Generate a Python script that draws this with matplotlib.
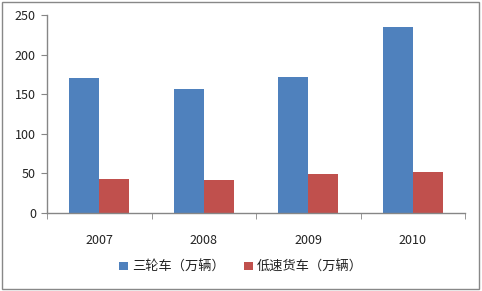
import matplotlib
matplotlib.use("Agg")
import matplotlib.pyplot as plt
import numpy as np
from matplotlib.patches import Rectangle

plt.rcParams['font.family'] = ['Noto Sans CJK SC', 'DejaVu Sans']

years = ['2007', '2008', '2009', '2010']
tricycle = [170, 157, 172, 235]
lowspeed = [43, 42, 49, 52]
series_names = ['三轮车（万辆）', '低速货车（万辆）']
colors = ['#4F81BD', '#C0504D']
yticks = [0, 50, 100, 150, 200, 250]

W, H = 482, 291
fig = plt.figure(figsize=(W / 100, H / 100), dpi=100)
fig.patch.set_facecolor('white')
# outer frame
fig.add_artist(Rectangle((1.5 / W, 2 / H), 477.5 / W, 287.5 / H, transform=fig.transFigure,
                         fill=False, edgecolor='#888888', linewidth=1.0))

ax = fig.add_axes([47 / W, 1 - 213 / H, 418 / W, 198 / H])
x = np.arange(len(years))
bw = 0.2875
ax.bar(x - bw / 2, tricycle, width=bw, color=colors[0], label=series_names[0])
ax.bar(x + bw / 2, lowspeed, width=bw, color=colors[1], label=series_names[1])

ax.set_xlim(-0.5, len(years) - 0.5)
ax.set_ylim(0, 250)
ax.set_yticks(yticks)
ax.set_yticklabels([str(v) for v in yticks], fontsize=9, color='#222222')
ax.set_xticks(x)
ax.set_xticklabels(years, fontsize=9, color='#222222')
ax.set_xticks(np.arange(len(years) + 1) - 0.5, minor=True)
ax.tick_params(axis='x', which='major', length=0, pad=15)
ax.tick_params(axis='x', which='minor', length=4, color='#868686', direction='out')
ax.tick_params(axis='y', length=4, color='#868686', direction='out', pad=4)

for s in ['top', 'right']:
    ax.spines[s].set_visible(False)
for s in ['left', 'bottom']:
    ax.spines[s].set_color('#868686')
    ax.spines[s].set_linewidth(1.0)

leg = fig.legend(loc='center', bbox_to_anchor=(0.5, 1 - 267 / H), ncol=2, frameon=False,
                 fontsize=9.5, handlelength=0.65, handleheight=0.65, handletextpad=0.3,
                 columnspacing=1.5)
for t in leg.get_texts():
    t.set_color('#222222')

fig.savefig('out.png', dpi=100)
